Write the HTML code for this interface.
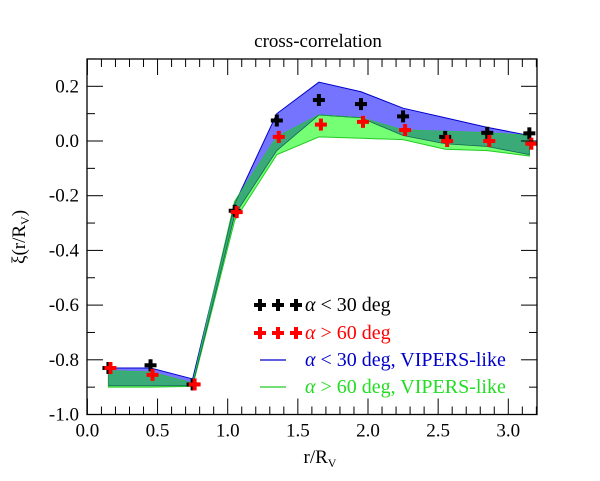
<!DOCTYPE html>
<html><head><meta charset="utf-8"><style>
html,body{margin:0;padding:0;background:#fff;}
svg{display:block;}
text{font-family:"Liberation Serif","Times New Roman",Times,"DejaVu Serif",serif;}
</style></head><body>
<svg id="c" width="600" height="481" viewBox="0 0 600 481" style="position:absolute;left:0;top:0;"></svg>
<script>
const xs = [0.15,0.45,0.75,1.05,1.35,1.65,1.95,2.25,2.55,2.85,3.15];
const blackPts = [-0.83,-0.82,-0.89,-0.255,0.075,0.15,0.135,0.09,0.015,0.03,0.028];
const redPts = [-0.83,-0.855,-0.89,-0.26,0.015,0.06,0.07,0.04,0.0,0.0,-0.01];
const blueUpper = [-0.83,-0.83,-0.87,-0.23,0.10,0.215,0.18,0.12,0.085,0.05,0.02];
const blueLower = [-0.895,-0.895,-0.895,-0.27,-0.035,0.095,0.085,0.02,-0.01,-0.02,-0.05];
const greenUpper = [-0.84,-0.845,-0.885,-0.22,0.015,0.095,0.085,0.04,0.035,0.03,0.02];
const greenLower = [-0.90,-0.90,-0.897,-0.29,-0.05,0.015,0.01,0.005,-0.03,-0.035,-0.055];
const xTicks = [0,0.5,1.0,1.5,2.0,2.5,3.0];
const xTickLabels = ["0.0","0.5","1.0","1.5","2.0","2.5","3.0"];
const yTicks = [-1.0,-0.8,-0.6,-0.4,-0.2,0.0,0.2];
const yTickLabels = ["-1.0","-0.8","-0.6","-0.4","-0.2","0.0","0.2"];

const L=87,R=537,T=59,B=414.5;
const X=v=>87.4+v*140.3;
const Y=v=>141-v*273.5;
const svg=document.getElementById('c');
const NS='http://www.w3.org/2000/svg';
const FF='Liberation Serif, Times New Roman, Times, DejaVu Serif, serif';
function mk(tag,attrs,parent){const e=document.createElementNS(NS,tag);for(const k in attrs)e.setAttribute(k,attrs[k]);(parent||svg).appendChild(e);return e;}
function band(up,lo){const p=xs.map((x,i)=>X(x)+','+Y(up[i]));const q=xs.map((x,i)=>X(x)+','+Y(lo[i])).reverse();return p.concat(q).join(' ');}

const defs=mk('defs',{});
const clip=mk('clipPath',{id:'gclip'},defs);
mk('polygon',{points:band(greenUpper,greenLower)},clip);

let e;
e=mk('polygon',{points:band(blueUpper,blueLower),fill:'#7474ff',stroke:'#0000cc','stroke-width':1});


e=mk('polygon',{points:band(greenUpper,greenLower),fill:'#74ff74',stroke:'#22cc22','stroke-width':1});


e=mk('polygon',{points:band(blueUpper,blueLower),fill:'#3aaa78','clip-path':'url(#gclip)',stroke:'#116655','stroke-width':0.8});



function plus(cx,cy,col,name){const g=mk('g',{});


mk('rect',{x:cx-6,y:cy-2,width:12,height:4,fill:col},g);mk('rect',{x:cx-2,y:cy-6,width:4,height:12,fill:col},g);}
xs.forEach((x,i)=>plus(X(x),Y(blackPts[i]),'#000','black-point'));
xs.forEach((x,i)=>plus(X(x)+2,Y(redPts[i]),'#ff0000','red-point'));

e=mk('rect',{x:L,y:T,width:R-L,height:B-T,fill:'none',stroke:'#000','stroke-width':1.3});


for(let k=0;k<=32;k++){const v=k/10,x=X(v);if(x>R)break;const len=(k%5===0)?16:8;
mk('line',{x1:x,y1:B,x2:x,y2:B-len,stroke:'#000','stroke-width':1});
mk('line',{x1:x,y1:T,x2:x,y2:T+len,stroke:'#000','stroke-width':1});}
for(let k=-10;k<=3;k++){const v=k/10,y=Y(v);const len=(k%2===0)?16:8;
mk('line',{x1:L,y1:y,x2:L+len,y2:y,stroke:'#000','stroke-width':1});
mk('line',{x1:R,y1:y,x2:R-len,y2:y,stroke:'#000','stroke-width':1});}
xTicks.forEach((v,i)=>{const t=mk('text',{x:X(v),y:B+22,'text-anchor':'middle','font-size':19,'font-family':FF});t.textContent=xTickLabels[i];

});
yTicks.forEach((v,i)=>{const t=mk('text',{x:L-8,y:Y(v)+6,'text-anchor':'end','font-size':19,'font-family':FF});t.textContent=yTickLabels[i];

});

const leg=mk('g',{});


[260,278,296].forEach(x=>{plus(x,305,'#000','legend-black-marker');plus(x,333,'#ff0000','legend-red-marker');});
mk('line',{x1:260,y1:360,x2:286,y2:360,stroke:'#0000cc','stroke-width':1.2},leg);
mk('line',{x1:260,y1:387,x2:286,y2:387,stroke:'#22cc22','stroke-width':1.2},leg);
</script>
<svg width="600" height="481" style="position:absolute;left:0;top:0;" font-family="Liberation Serif, Times New Roman, Times, DejaVu Serif, serif">
<text x="318" y="47" text-anchor="middle" font-size="19">cross-correlation</text>
<text x="320" y="463" text-anchor="middle" font-size="19">r/R<tspan font-size="12" dy="4">V</tspan></text>
<text transform="translate(25,237) rotate(-90)" text-anchor="middle" font-size="19">ξ(r/R<tspan font-size="12" dy="4">V</tspan><tspan dy="-4">)</tspan></text>
<text x="305" y="311" font-size="20" fill="#000"><tspan font-style="italic">α</tspan> &lt; 30 deg</text>
<text x="305" y="339" font-size="20" fill="#ff0000"><tspan font-style="italic">α</tspan> &gt; 60 deg</text>
<text x="305" y="366" font-size="20" fill="#0000cc"><tspan font-style="italic">α</tspan> &lt; 30 deg, VIPERS-like</text>
<text x="305" y="393" font-size="20" fill="#22dd22"><tspan font-style="italic">α</tspan> &gt; 60 deg, VIPERS-like</text>
</svg>
</body></html>
